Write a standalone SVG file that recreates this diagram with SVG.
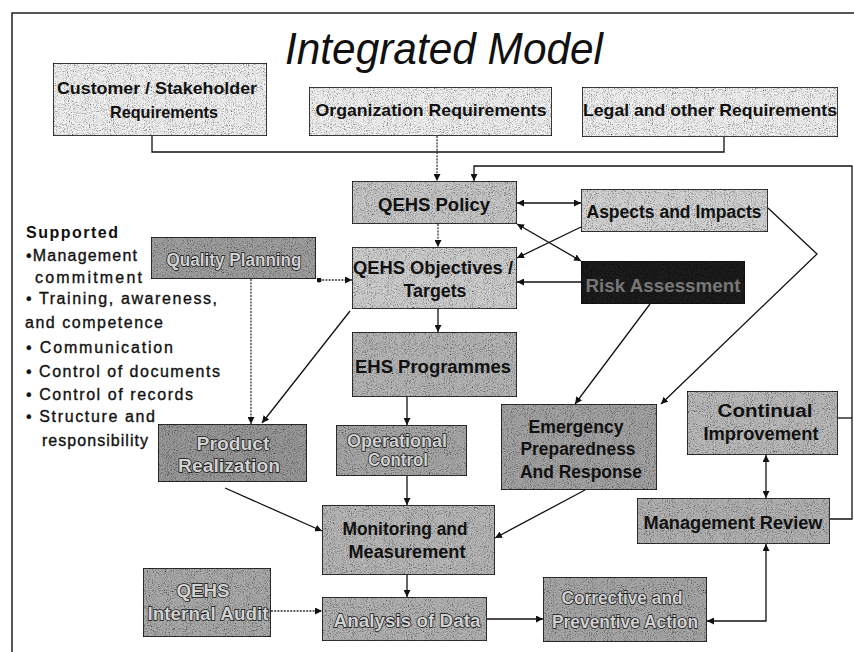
<svg xmlns="http://www.w3.org/2000/svg" width="854" height="652" viewBox="0 0 854 652">
  <style>
    .frame { fill: #fff; stroke: #111; stroke-width: 1.4; }
    .title { font-family: "Liberation Sans", Arial, sans-serif; font-style: italic; font-size: 44px; fill: #111; }
    .side { font-family: "Liberation Sans", Arial, sans-serif; font-size: 16px; fill: #111; stroke: #111; stroke-width: 0.35; }
    .side.head { font-weight: bold; stroke-width: 0; }
    .box { stroke: #111; stroke-width: 1.6; filter: url(#grain); }
    .lbl { font-family: "Liberation Sans", Arial, sans-serif; font-weight: bold; font-size: 18px; text-anchor: middle; fill: #111; }
    .lbl.small { font-size: 17px; }
    .lbl.out { fill: #d2d2d2; stroke: #111; stroke-width: 1.4; paint-order: stroke; }
    .lbl.dim { fill: #777; }
    .c { fill: none; stroke: #111; stroke-width: 1.3; }
    .c.dash { stroke: #333; stroke-dasharray: 2 1.2; }
    .a { marker-end: url(#ah); }
    .b { marker-start: url(#ahs); marker-end: url(#ah); }
    .d { marker-start: url(#dot); marker-end: url(#ah); }
  </style>
  <defs>
    <!-- speckled box texture -->
    <filter id="grain" x="0" y="0" width="100%" height="100%">
      <feTurbulence type="fractalNoise" baseFrequency="0.95" numOctaves="2" seed="7" result="n"/>
      <feColorMatrix in="n" type="saturate" values="0" result="g"/>
      <feComponentTransfer in="g" result="m">
        <feFuncR type="linear" slope="2.8" intercept="-0.5"/>
        <feFuncG type="linear" slope="2.8" intercept="-0.5"/>
        <feFuncB type="linear" slope="2.8" intercept="-0.5"/>
        <feFuncA type="linear" slope="0" intercept="1"/>
      </feComponentTransfer>
      <feBlend in="SourceGraphic" in2="m" mode="multiply" result="t"/>
      <feComposite in="t" in2="SourceGraphic" operator="in"/>
    </filter>
    <marker id="ah" viewBox="0 0 10 10" refX="10" refY="5" markerWidth="7" markerHeight="7" markerUnits="userSpaceOnUse" orient="auto">
      <path d="M0,0 L10,5 L0,10 z" fill="#111"/>
    </marker>
    <marker id="ahs" viewBox="0 0 10 10" refX="0" refY="5" markerWidth="7" markerHeight="7" markerUnits="userSpaceOnUse" orient="auto">
      <path d="M10,0 L0,5 L10,10 z" fill="#111"/>
    </marker>
    <marker id="dot" viewBox="0 0 10 10" refX="5" refY="5" markerWidth="5" markerHeight="5" markerUnits="userSpaceOnUse">
      <circle cx="5" cy="5" r="5" fill="#111"/>
    </marker>
  </defs>

  <rect class="frame" x="12" y="13" width="860" height="660"/>
  <text class="title" x="285" y="64" textLength="318" lengthAdjust="spacingAndGlyphs">Integrated Model</text>

  <!-- supporting processes list -->
  <g id="supported">
    <text class="side head" x="26" y="238" textLength="92">Supported</text>
    <text class="side" x="26" y="261" textLength="111">•Management</text>
    <text class="side" x="35" y="283" textLength="107">commitment</text>
    <text class="side" x="26" y="304" textLength="191">•  Training, awareness,</text>
    <text class="side" x="25" y="328" textLength="138">and competence</text>
    <text class="side" x="26" y="353" textLength="147">•  Communication</text>
    <text class="side" x="26" y="377" textLength="194">•  Control of documents</text>
    <text class="side" x="26" y="400" textLength="167">•  Control of records</text>
    <text class="side" x="26" y="422" textLength="129">•  Structure and</text>
    <text class="side" x="42" y="446" textLength="106">responsibility</text>
  </g>

  <!-- connectors -->
  <g id="connectors">
    <polyline class="c" points="152,136 152,152 724,152 724,137"/>
    <line class="c dash a" x1="437" y1="136" x2="437" y2="181"/>
    <polyline class="c a" points="830,519 852,519 852,166 474,166 474,181"/>
    <line class="c" x1="838" y1="418" x2="852" y2="418"/>
    <line class="c dash a" x1="438" y1="224" x2="438" y2="247"/>
    <line class="c a" x1="438" y1="309" x2="438" y2="332"/>
    <line class="c a" x1="407" y1="397" x2="407" y2="425"/>
    <line class="c a" x1="407" y1="476" x2="407" y2="505"/>
    <line class="c a" x1="407" y1="575" x2="407" y2="597"/>
    <line class="c a" x1="487" y1="619" x2="543" y2="619"/>
    <line class="c dash a" x1="271" y1="611" x2="322" y2="611"/>
    <line class="c dash d" x1="319" y1="280" x2="352" y2="280"/>
    <line class="c dash a" x1="251" y1="279" x2="251" y2="424"/>
    <line class="c a" x1="350" y1="311" x2="262" y2="423"/>
    <line class="c a" x1="225" y1="488" x2="322" y2="531"/>
    <line class="c a" x1="585" y1="490" x2="495" y2="538"/>
    <line class="c b" x1="517" y1="203" x2="581" y2="203"/>
    <line class="c b" x1="517" y1="224" x2="581" y2="261"/>
    <line class="c a" x1="581" y1="227" x2="517" y2="258"/>
    <line class="c a" x1="581" y1="282" x2="517" y2="282"/>
    <line class="c a" x1="650" y1="304" x2="575" y2="404"/>
    <polyline class="c a" points="768,208 817,254 661,404"/>
    <line class="c b" x1="766" y1="455" x2="766" y2="498"/>
    <polyline class="c b" points="766,544 766,621 707,621"/>
  </g>

  <!-- requirement sources -->
  <g id="customer">
    <rect class="box" x="53" y="63" width="214" height="73" fill="#f2f2f2"/>
    <text class="lbl small" x="157" y="94" textLength="200" lengthAdjust="spacingAndGlyphs">Customer / Stakeholder</text>
    <text class="lbl small" x="164" y="118" textLength="108" lengthAdjust="spacingAndGlyphs">Requirements</text>
  </g>
  <g id="organization">
    <rect class="box" x="309" y="87" width="243" height="49" fill="#f2f2f2"/>
    <text class="lbl small" x="431" y="116" textLength="231" lengthAdjust="spacingAndGlyphs">Organization Requirements</text>
  </g>
  <g id="legal">
    <rect class="box" x="582" y="87" width="256" height="50" fill="#f2f2f2"/>
    <text class="lbl small" x="710" y="116" textLength="254" lengthAdjust="spacingAndGlyphs">Legal and other Requirements</text>
  </g>

  <!-- core chain -->
  <g id="policy">
    <rect class="box" x="352" y="181" width="165" height="43" fill="#c8c8c8"/>
    <text class="lbl" x="434" y="211" textLength="112" lengthAdjust="spacingAndGlyphs">QEHS Policy</text>
  </g>
  <g id="objectives">
    <rect class="box" x="352" y="247" width="165" height="62" fill="#cfcfcf"/>
    <text class="lbl" x="433" y="274" textLength="160" lengthAdjust="spacingAndGlyphs">QEHS Objectives /</text>
    <text class="lbl" x="435" y="297" textLength="63" lengthAdjust="spacingAndGlyphs">Targets</text>
  </g>
  <g id="programmes">
    <rect class="box" x="352" y="332" width="165" height="65" fill="#b6b6b6"/>
    <text class="lbl" x="433" y="373" textLength="156" lengthAdjust="spacingAndGlyphs">EHS Programmes</text>
  </g>
  <g id="aspects">
    <rect class="box" x="581" y="189" width="187" height="43" fill="#d4d4d4"/>
    <text class="lbl" x="674" y="218" textLength="175" lengthAdjust="spacingAndGlyphs">Aspects and Impacts</text>
  </g>
  <g id="risk">
    <rect class="box" x="581" y="261" width="164" height="43" fill="#1c1c1c"/>
    <text class="lbl dim" x="663" y="292" textLength="155" lengthAdjust="spacingAndGlyphs">Risk Assessment</text>
  </g>
  <g id="quality-planning">
    <rect class="box" x="151" y="237" width="165" height="42" fill="#a0a0a0"/>
    <text class="lbl out" x="234" y="266" textLength="135" lengthAdjust="spacingAndGlyphs">Quality Planning</text>
  </g>
  <g id="product">
    <rect class="box" x="158" y="424" width="149" height="58" fill="#999999"/>
    <text class="lbl out" x="233" y="450" textLength="73" lengthAdjust="spacingAndGlyphs">Product</text>
    <text class="lbl out" x="229" y="472" textLength="102" lengthAdjust="spacingAndGlyphs">Realization</text>
  </g>
  <g id="operational">
    <rect class="box" x="336" y="425" width="131" height="51" fill="#a8a8a8"/>
    <text class="lbl out" x="397" y="447" textLength="100" lengthAdjust="spacingAndGlyphs">Operational</text>
    <text class="lbl out" x="398" y="466" textLength="60" lengthAdjust="spacingAndGlyphs">Control</text>
  </g>
  <g id="emergency">
    <rect class="box" x="501" y="404" width="156" height="86" fill="#a4a4a4"/>
    <text class="lbl" x="576" y="433" textLength="95" lengthAdjust="spacingAndGlyphs">Emergency</text>
    <text class="lbl" x="578" y="455" textLength="115" lengthAdjust="spacingAndGlyphs">Preparedness</text>
    <text class="lbl" x="581" y="478" textLength="122" lengthAdjust="spacingAndGlyphs">And Response</text>
  </g>
  <g id="monitoring">
    <rect class="box" x="322" y="505" width="173" height="70" fill="#b8b8b8"/>
    <text class="lbl" x="405" y="535" textLength="125" lengthAdjust="spacingAndGlyphs">Monitoring and</text>
    <text class="lbl" x="407" y="558" textLength="117" lengthAdjust="spacingAndGlyphs">Measurement</text>
  </g>
  <g id="analysis">
    <rect class="box" x="322" y="597" width="165" height="44" fill="#b3b3b3"/>
    <text class="lbl out" x="407" y="627" textLength="147" lengthAdjust="spacingAndGlyphs">Analysis of Data</text>
  </g>
  <g id="internal-audit">
    <rect class="box" x="143" y="568" width="128" height="69" fill="#ababab"/>
    <text class="lbl out" x="203" y="597" textLength="53" lengthAdjust="spacingAndGlyphs">QEHS</text>
    <text class="lbl out" x="208" y="620" textLength="121" lengthAdjust="spacingAndGlyphs">Internal Audit</text>
  </g>
  <g id="corrective">
    <rect class="box" x="543" y="577" width="164" height="65" fill="#a8a8a8"/>
    <text class="lbl out" x="622" y="604" textLength="121" lengthAdjust="spacingAndGlyphs">Corrective and</text>
    <text class="lbl out" x="625" y="628" textLength="146" lengthAdjust="spacingAndGlyphs">Preventive Action</text>
  </g>
  <g id="continual">
    <rect class="box" x="687" y="391" width="151" height="64" fill="#bbbbbb"/>
    <text class="lbl" x="765" y="417" textLength="95" lengthAdjust="spacingAndGlyphs">Continual</text>
    <text class="lbl" x="761" y="440" textLength="115" lengthAdjust="spacingAndGlyphs">Improvement</text>
  </g>
  <g id="review">
    <rect class="box" x="637" y="498" width="193" height="46" fill="#b3b3b3"/>
    <text class="lbl" x="733" y="529" textLength="179" lengthAdjust="spacingAndGlyphs">Management Review</text>
  </g>
</svg>
